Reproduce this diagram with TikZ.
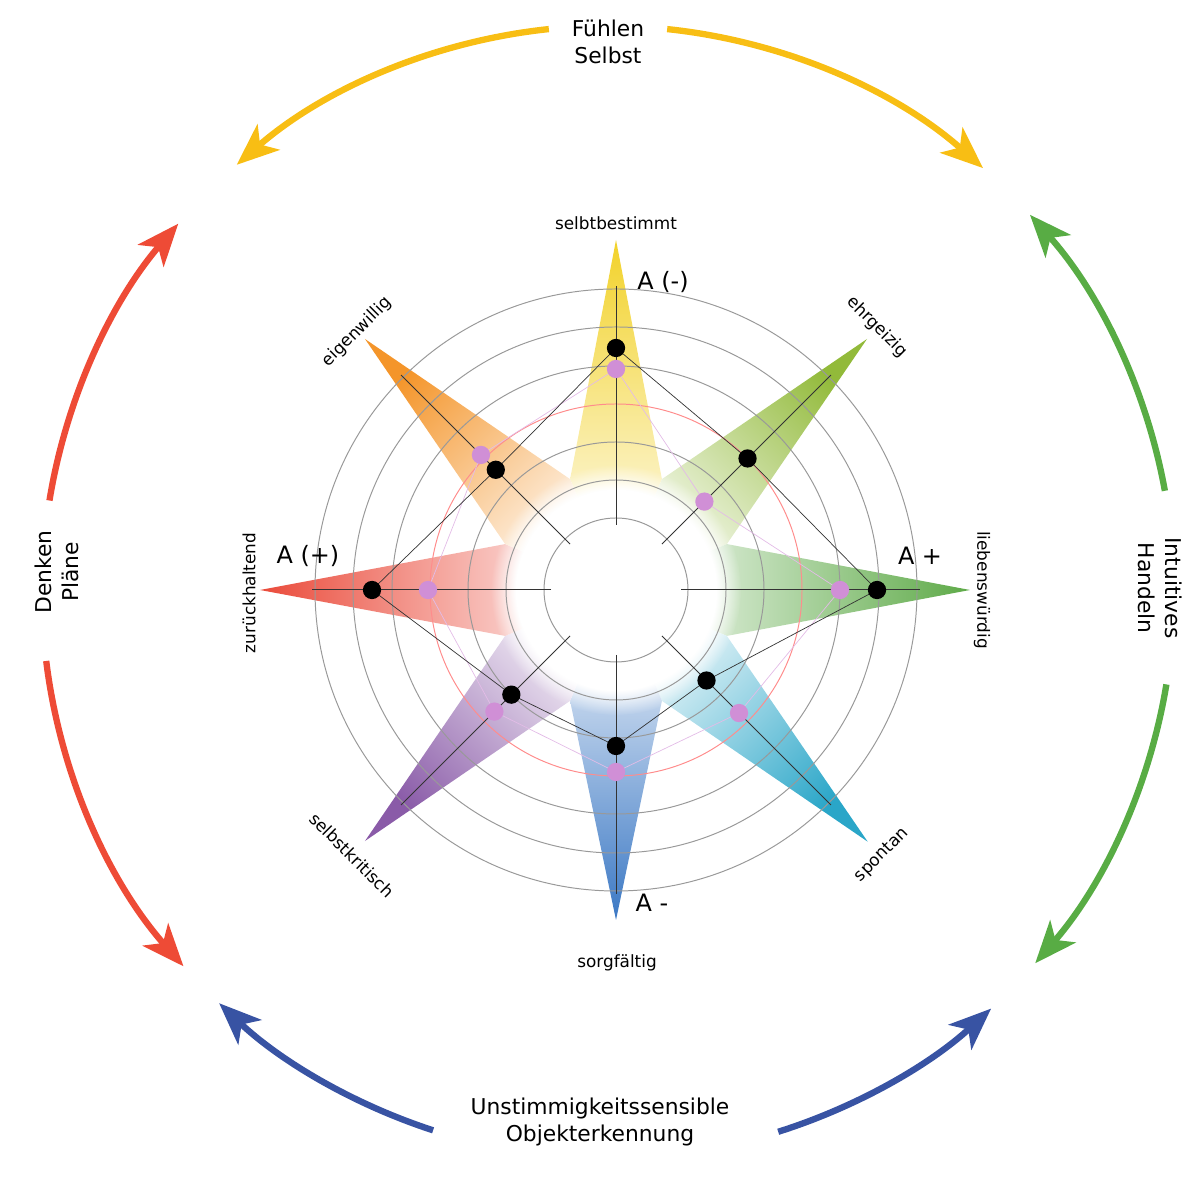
\documentclass[tikz,border=0pt]{standalone}
\usepackage{fontspec}
\setmainfont{DejaVu Sans}
\usetikzlibrary{arrows.meta,fadings,calc}
\definecolor{cy}{HTML}{F8BE14}
\definecolor{cr}{HTML}{EE4B36}
\definecolor{cg}{HTML}{58AC44}
\definecolor{cb}{HTML}{3853A3}
\definecolor{pk}{HTML}{D08FD6}
\definecolor{s1}{HTML}{F2D22A}
\definecolor{s2}{HTML}{92BA3A}
\definecolor{s3}{HTML}{5EAA48}
\definecolor{s4}{HTML}{2AA6C8}
\definecolor{s5}{HTML}{3B78C4}
\definecolor{s6}{HTML}{8A5BA8}
\definecolor{s7}{HTML}{EA4A3A}
\definecolor{s8}{HTML}{F4952A}
\begin{document}
\begin{tikzpicture}[x=0.025cm,y=0.025cm,
  arc/.style={line width=4.5pt,-{Stealth[length=30pt,width=24pt,inset=8pt]}},
  big/.style={font=\fontsize{15.5}{19}\selectfont,align=center},
  lab/.style={font=\fontsize{12}{13}\selectfont},
  aa/.style={font=\fontsize{17}{19}\selectfont},
  ring/.style={gray!80,line width=0.7pt},
  bd/.style={circle,fill=black,inner sep=0pt,minimum size=13pt},
  pd/.style={circle,fill=pk,inner sep=0pt,minimum size=13pt}]
\useasboundingbox (0,0) rectangle (1200,1200);
\coordinate (C) at (616,610);
\coordinate (O) at (608,608);
% outer arcs
\draw[arc,cy] ($(O)+(96:566)$) arc (96:131:566) coordinate (y1);
\draw[arc,cy] ($(O)+(84:566)$) arc (84:48.5:566) coordinate (y2);
\draw[arc,cr] ($(O)+(170.7:566)$) arc (170.7:139.4:566) coordinate (r1);
\draw[arc,cr] ($(O)+(187:566)$) arc (187:221.4:566) coordinate (r2);
\draw[arc,cb] ($(O)+(252:566)$) arc (252:226.6:566) coordinate (b1);
\draw[arc,cb] ($(O)+(287.5:566)$) arc (287.5:312.6:566) coordinate (b2);
\draw[arc,cg] ($(O)+(10.3:566)$) arc (10.3:41.8:566) coordinate (g1);
\draw[arc,cg] ($(O)+(-9.4:566)$) arc (-9.4:-41:566) coordinate (g2);
\node[big] (tf) at (608,1158) {Fühlen\\Selbst};
\node[big,rotate=90] (tl) at (57,628) {Denken\\Pläne};
\node[big,rotate=-90] (tr) at (1160,612) {Intuitives\\Handeln};
\node[big] (tb) at (600,78) {Unstimmigkeitssensible\\Objekterkennung};
% star arms
\foreach \a/\c/\L in {90/s1/350,45/s2/355,0/s3/354,-45/s4/356,-90/s5/330,-135/s6/355,180/s7/356,135/s8/355}{
  \shade[top color=\c, middle color=\c!85, bottom color=white, shading angle=\a-90]
    (C) -- ($(C)+(\a+22.5:120)$) -- ($(C)+(\a:\L)$) -- ($(C)+(\a-22.5:120)$) -- cycle;
}
% central glow
\fill[white,path fading=circle with fuzzy edge 20 percent] (C) circle (125);
% rings
\foreach \r in {72,110,148,224,263,301} \draw[ring] (C) circle (\r);
\draw[red!45,line width=0.7pt] (C) circle (186);
\fill[white] (C) circle (64);
% axes
\foreach \a in {0,45,...,315} \draw[black!80,line width=0.7pt] ($(C)+(\a:65)$) -- ($(C)+(\a:304)$);
% pink polygon
\draw[pk!60,line width=0.5pt] ($(C)+(90:221)$) -- ($(C)+(45:125)$) -- ($(C)+(0:224)$) -- ($(C)+(-45:174)$) -- ($(C)+(-90:182)$) -- ($(C)+(-135:172)$) -- ($(C)+(180:188)$) -- ($(C)+(135:191)$) -- cycle;
% black polygon
\draw[black!80,line width=0.5pt] ($(C)+(90:242)$) -- ($(C)+(45:186)$) -- ($(C)+(0:261)$) -- ($(C)+(-45:128)$) -- ($(C)+(-90:156)$) -- ($(C)+(-135:148)$) -- ($(C)+(180:244)$) -- ($(C)+(135:170)$) -- cycle;
\foreach \a/\rb/\rp [count=\i] in {90/242/221,45/186/125,0/261/224,-45/128/174,-90/156/182,-135/148/172,180/244/188,135/170/191}{
  \node[pd] (p\i) at ($(C)+(\a:\rp)$) {};
  \node[bd] (k\i) at ($(C)+(\a:\rb)$) {};
}
% labels
\node[lab] (l1) at (616,977) {selbtbestimmt};
\node[lab,rotate=45] (l2) at (357,868) {eigenwillig};
\node[lab,rotate=-45] (l3) at (877,873) {ehrgeizig};
\node[lab,rotate=90] (l4) at (249,607) {zurückhaltend};
\node[lab,rotate=-90] (l5) at (982,610) {liebenswürdig};
\node[lab,rotate=-45] (l6) at (352,345) {selbstkritisch};
\node[lab,rotate=45] (l7) at (882,345) {spontan};
\node[lab] (l8) at (617,237) {sorgfältig};
\node[aa] (a1) at (663,918) {A (-)};
\node[aa] (a2) at (920,644) {A +};
\node[aa] (a3) at (308,644) {A (+)};
\node[aa] (a4) at (652,297) {A -};
\end{tikzpicture}
\end{document}
